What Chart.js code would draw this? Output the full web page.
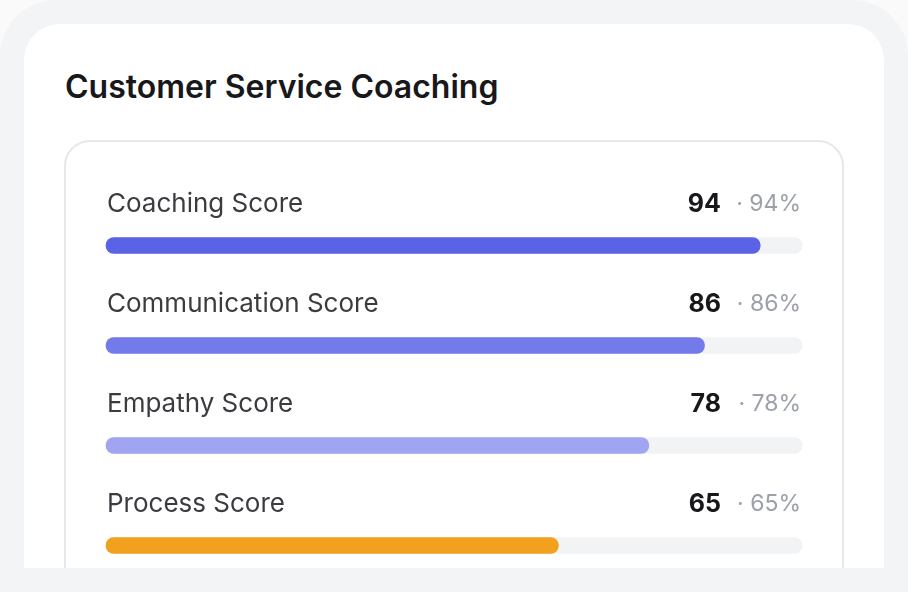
<!DOCTYPE html>
<html>
<head>
<meta charset="utf-8">
<script src="https://cdn.jsdelivr.net/npm/chart.js@4/dist/chart.umd.min.js"></script>
<style>
  html, body { margin: 0; padding: 0; width: 908px; height: 592px; overflow: hidden; background: #fafafb; font-family: Inter, "Noto Sans", sans-serif; }
  #outer { position: absolute; left: 0; top: 0; width: 908px; height: 700px; background: #f3f4f6; border-radius: 56px; }
  #clip { position: absolute; left: 24px; top: 24px; width: 860px; height: 544px; overflow: hidden; }
  #card { position: absolute; left: 0; top: 0; width: 860px; height: 800px; background: #ffffff; border-radius: 36px; }
  #title { position: absolute; left: 41px; top: 43px; font-size: 32px; line-height: 39px; font-weight: 600; color: #18181b; white-space: nowrap; }
  #inner { position: absolute; left: 40px; top: 116px; width: 780px; height: 600px; border: 2px solid #e8e8ea; border-radius: 26px; box-sizing: border-box; }
  #chart { position: absolute; left: 0; top: 0; }
</style>
</head>
<body>
<div id="outer"></div>
<div id="clip">
  <div id="card"></div>
  <div id="title">Customer Service Coaching</div>
  <div id="inner"></div>
  <canvas id="chart" width="860" height="544"></canvas>
</div>
<script>
const categories = ["Coaching Score", "Communication Score", "Empathy Score", "Process Score"];
const scores = [94, 86, 78, 65];
const trackValues = [100, 100, 100, 100];
const barColors = ["#5a62e5", "#737ae9", "#a0a5f1", "#f2a11f"];

const labelPlugin = {
  id: "rowLabels",
  afterDatasetsDraw(chart) {
    const ctx = chart.ctx;
    const meta = chart.getDatasetMeta(1);
    const xs = chart.scales.x;
    ctx.save();
    meta.data.forEach((bar, i) => {
      const y = bar.y - 41;
      ctx.textBaseline = "middle";
      ctx.font = "400 26px Inter, 'Noto Sans', sans-serif";
      ctx.fillStyle = "#3b3b40";
      ctx.textAlign = "left";
      ctx.fillText(categories[i], xs.getPixelForValue(0) + 1, y);
      ctx.font = "400 23px Inter, 'Noto Sans', sans-serif";
      ctx.fillStyle = "#9ca0a8";
      ctx.textAlign = "right";
      const pctX = xs.getPixelForValue(100) - 1;
      ctx.fillText("\u00b7 " + scores[i] + "%", pctX, y);
      ctx.font = "700 25px Inter, 'Noto Sans', sans-serif";
      ctx.fillStyle = "#18181b";
      ctx.fillText(String(scores[i]), pctX - 80, y);
    });
    ctx.restore();
  }
};

new Chart(document.getElementById("chart"), {
  type: "bar",
  data: {
    labels: categories,
    datasets: [
      {
        data: trackValues,
        backgroundColor: "#f2f3f5",
        borderRadius: 8,
        borderSkipped: false,
        barThickness: 16,
        grouped: false,
        order: 2,
        clip: false
      },
      {
        data: scores,
        backgroundColor: barColors,
        borderRadius: 8,
        borderSkipped: false,
        barThickness: 16,
        grouped: false,
        order: 1,
        clip: false
      }
    ]
  },
  options: {
    indexAxis: "y",
    responsive: false,
    animation: false,
    events: [],
    layout: { padding: { left: 82, right: 82, top: 221.5, bottom: 22.5 } },
    plugins: { legend: { display: false }, tooltip: { enabled: false } },
    scales: {
      x: { display: false, min: 0, max: 100 },
      y: { display: false, offset: false }
    }
  },
  plugins: [labelPlugin]
});
</script>
</body>
</html>
